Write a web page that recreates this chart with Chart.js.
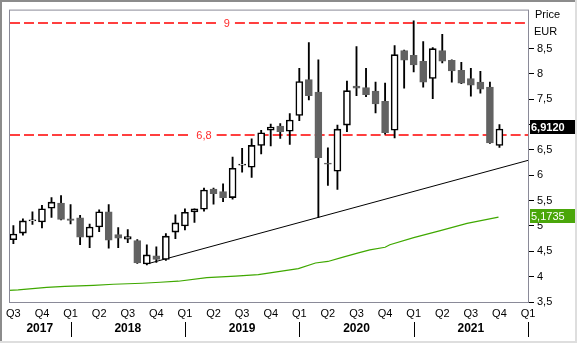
<!DOCTYPE html>
<html>
<head>
<meta charset="utf-8">
<script src="https://cdn.jsdelivr.net/npm/chart.js@4.4.1/dist/chart.umd.min.js"></script>
<style>
  html, body { margin: 0; padding: 0; background: #fff; overflow: hidden; }
  canvas { display: block; }
</style>
</head>
<body>
<canvas id="chart" width="577" height="343"></canvas>
<script>
// Monthly candles, Jul 2017 .. Oct 2021 (EUR)
const months = [
  '2017-07','2017-08','2017-09','2017-10','2017-11','2017-12',
  '2018-01','2018-02','2018-03','2018-04','2018-05','2018-06','2018-07','2018-08','2018-09','2018-10','2018-11','2018-12',
  '2019-01','2019-02','2019-03','2019-04','2019-05','2019-06','2019-07','2019-08','2019-09','2019-10','2019-11','2019-12',
  '2020-01','2020-02','2020-03','2020-04','2020-05','2020-06','2020-07','2020-08','2020-09','2020-10','2020-11','2020-12',
  '2021-01','2021-02','2021-03','2021-04','2021-05','2021-06','2021-07','2021-08','2021-09','2021-10'
];
const openP  = [4.73,4.86,5.10,5.08,5.35,5.45,5.14,5.16,4.78,4.98,5.28,4.83,4.74,4.71,4.25,4.41,4.34,4.88,5.00,5.28,5.33,5.73,5.68,5.56,6.20,6.16,6.59,6.89,6.97,6.87,7.18,7.89,7.64,6.24,6.08,6.99,7.76,7.73,7.66,7.46,6.89,8.46,8.37,8.25,7.91,8.46,8.27,8.07,7.91,7.84,7.74,6.59];
const highP  = [5.01,5.14,5.28,5.41,5.56,5.60,5.42,5.21,5.04,5.32,5.42,4.97,4.93,4.73,4.63,4.59,4.85,5.22,5.34,5.34,5.75,5.75,5.83,6.36,6.53,6.72,6.89,7.01,7.02,7.22,8.11,8.62,8.28,6.54,6.99,7.86,8.54,8.11,7.84,7.82,8.56,8.47,9.05,8.64,8.52,8.78,8.28,8.23,8.11,8.05,7.84,7.00];
const lowP   = [4.65,4.82,5.03,4.96,5.17,5.12,5.04,4.63,4.57,4.89,4.56,4.57,4.67,4.26,4.23,4.28,4.32,4.75,4.92,5.07,5.29,5.43,5.48,5.53,6.06,5.96,6.42,6.58,6.73,6.61,7.08,7.49,5.17,5.80,5.72,6.86,7.57,7.55,7.23,6.81,6.74,7.72,8.04,7.74,7.51,8.22,7.84,7.81,7.56,7.62,6.63,6.55];
const closeP = [4.84,5.10,5.12,5.34,5.47,5.13,5.11,4.78,4.98,5.28,4.72,4.76,4.79,4.27,4.43,4.34,4.80,5.06,5.27,5.34,5.71,5.64,5.56,6.14,6.22,6.59,6.84,6.95,6.86,7.09,7.85,7.57,6.35,6.22,6.91,7.67,7.72,7.59,7.41,6.84,8.38,8.27,8.18,7.84,8.50,8.25,8.06,7.82,7.78,7.70,6.64,6.912];

// Long moving average (month offset from Jul 2017, value)
const maX = [-0.46,0.5,3.5,5.4,8.4,10.5,13.5,15.4,17.3,20.3,23.3,25.7,27.1,28.5,29.9,31.7,33.0,34.5,36.2,37.4,39.0,39.5,42.0,44.8,47.6,50.9];
const maY = [3.73,3.74,3.79,3.81,3.83,3.85,3.87,3.89,3.91,3.98,4.01,4.04,4.08,4.12,4.16,4.27,4.30,4.38,4.47,4.53,4.58,4.63,4.77,4.91,5.05,5.1735];

// Support trend line (month offset, value)
const trendX = [14, 54.1];
const trendY = [4.25, 6.30];

// Horizontal reference levels and where their captions sit (month offset)
const refLevels = [9, 6.8];
const refLabels = ['9', '6,8'];
const refLabelAt = [22.4, 20.0];

// Axis labels
const quarterLabels = ['Q3','Q4','Q1','Q2','Q3','Q4','Q1','Q2','Q3','Q4','Q1','Q2','Q3','Q4','Q1','Q2','Q3','Q4','Q1'];
const yearLabels = ['2017','2018','2019','2020','2021'];
const yearEnds = [6, 18, 30, 42, 54];

const X_MIN = -0.46, X_MAX = 54.1;
const FONT = 'Liberation Sans, Arial, sans-serif';
const DOWN = '#626262';

const fmt = v => v.toFixed(4).replace('.', ',');

const wickData = months.map((m, i) => ({ x: i, y: [lowP[i], highP[i]] }));
const bodyData = months.map((m, i) => ({ x: i, y: [openP[i], closeP[i]] }));
const isUp = months.map((m, i) => closeP[i] >= openP[i]);

const overlay = {
  id: 'overlay',
  beforeDatasetsDraw(chart) {
    // dashed reference levels, with a caption cut into each
    const ctx = chart.ctx, a = chart.chartArea, xs = chart.scales.x, ys = chart.scales.y;
    ctx.save();
    ctx.font = '11px ' + FONT;
    refLevels.forEach((lv, k) => {
      const y = Math.round(ys.getPixelForValue(lv));
      const cx = xs.getPixelForValue(refLabelAt[k]);
      const w = ctx.measureText(refLabels[k]).width;
      const gapL = cx - w / 2 - 5, gapR = cx + w / 2 + 5;
      ctx.strokeStyle = '#ff0000';
      ctx.lineWidth = 1.5;
      ctx.setLineDash([10, 4]);
      ctx.beginPath();
      ctx.moveTo(a.left + 1, y); ctx.lineTo(gapL, y);
      ctx.stroke();
      ctx.beginPath();
      ctx.moveTo(gapR, y); ctx.lineTo(a.right - 1, y);
      ctx.stroke();
      ctx.setLineDash([]);
      ctx.fillStyle = '#ff2a2a';
      ctx.textAlign = 'center';
      ctx.textBaseline = 'middle';
      ctx.fillText(refLabels[k], cx, y + 0.5);
    });
    ctx.restore();
  },
  afterDraw(chart) {
    const ctx = chart.ctx, a = chart.chartArea, xs = chart.scales.x, ys = chart.scales.y;
    ctx.save();
    // plot frame
    ctx.strokeStyle = '#8a8a98';
    ctx.lineWidth = 1;
    ctx.strokeRect(a.left + 0.5, a.top + 0.5, a.right - a.left - 1, a.bottom - a.top);

    // years under the quarter labels, with separators at each January
    ctx.fillStyle = '#000';
    ctx.font = 'bold 12px ' + FONT;
    ctx.textAlign = 'center';
    ctx.textBaseline = 'middle';
    let start = a.left;
    yearLabels.forEach((y, i) => {
      const end = xs.getPixelForValue(yearEnds[i]);
      ctx.fillText(y, (start + end) / 2, 329);
      start = end;
    });
    ctx.strokeStyle = '#000';
    yearEnds.forEach(v => {
      const x = Math.round(xs.getPixelForValue(v)) + 0.5;
      ctx.beginPath();
      ctx.moveTo(x, 322);
      ctx.lineTo(x, 337);
      ctx.stroke();
    });

    // axis header
    ctx.font = '11px ' + FONT;
    ctx.textAlign = 'left';
    ctx.fillText('Price', 535, 15);
    ctx.fillText('EUR', 534, 32);

    // last value markers
    const lastClose = closeP[closeP.length - 1];
    const lastMa = maY[maY.length - 1];
    const y1 = ys.getPixelForValue(lastClose) - 2;
    ctx.fillStyle = '#000';
    ctx.fillRect(a.right + 1, Math.round(y1 - 7), 577 - a.right - 1, 14);
    ctx.fillStyle = '#fff';
    ctx.font = 'bold 11px ' + FONT;
    ctx.fillText(fmt(lastClose), a.right + 2, Math.round(y1) + 0.5);
    const y2 = ys.getPixelForValue(lastMa) - 1;
    ctx.fillStyle = '#4aa60a';
    ctx.fillRect(a.right + 1, Math.round(y2 - 7), 575 - a.right - 1, 14);
    ctx.fillStyle = '#fff';
    ctx.font = '11px ' + FONT;
    ctx.fillText(fmt(lastMa), a.right + 2, Math.round(y2) + 0.5);

    // sunken outer border
    ctx.fillStyle = '#8c8c8c';
    ctx.fillRect(0, 0, 577, 2);
    ctx.fillRect(0, 0, 2, 343);
    ctx.fillStyle = '#dedede';
    ctx.fillRect(0, 341, 577, 2);
    ctx.fillRect(575, 0, 2, 343);
    ctx.restore();
  }
};

new Chart(document.getElementById('chart'), {
  type: 'bar',
  data: {
    datasets: [
      {
        type: 'bar', data: bodyData, order: 0, grouped: false, barThickness: 7,
        backgroundColor: isUp.map(u => u ? '#fff' : DOWN),
        borderColor: isUp.map(u => u ? '#000' : DOWN),
        borderWidth: 1.6, borderSkipped: false
      },
      {
        type: 'bar', data: wickData, order: 1, grouped: false, barThickness: 1.2,
        backgroundColor: '#000', borderWidth: 0
      },
      {
        type: 'line', data: maX.map((x, i) => ({ x, y: maY[i] })), order: 2,
        borderColor: '#3fa800', borderWidth: 1.2, pointRadius: 0, tension: 0
      },
      {
        type: 'line', data: trendX.map((x, i) => ({ x, y: trendY[i] })), order: 3,
        borderColor: '#000', borderWidth: 1, pointRadius: 0
      }
    ]
  },
  options: {
    responsive: false,
    animation: false,
    devicePixelRatio: 1,
    events: [],
    layout: { padding: { left: 9, top: 8, right: 0, bottom: 0 } },
    plugins: { legend: { display: false }, tooltip: { enabled: false } },
    scales: {
      x: {
        type: 'linear', min: X_MIN, max: X_MAX, offset: false,
        grid: { display: false, drawTicks: false }, border: { display: false },
        ticks: {
          stepSize: 3, includeBounds: false, autoSkip: false, maxRotation: 0, padding: 5,
          color: '#000', font: { family: FONT, size: 11 },
          callback: v => quarterLabels[Math.round(v / 3)] || ''
        },
        afterFit: s => { s.height = 41; }
      },
      y: {
        position: 'right', min: 3.5, max: 9.27,
        grid: { drawOnChartArea: false, drawTicks: true, tickLength: 5, tickColor: '#000' },
        border: { display: false },
        ticks: {
          stepSize: 0.5, includeBounds: false, padding: 3,
          color: '#000', font: { family: FONT, size: 11 },
          callback: v => String(v).replace('.', ',')
        },
        afterBuildTicks: s => { s.ticks = s.ticks.filter(t => t.value < 9); },
        afterFit: s => { s.width = 48; }
      }
    }
  },
  plugins: [overlay]
});
</script>
</body>
</html>
